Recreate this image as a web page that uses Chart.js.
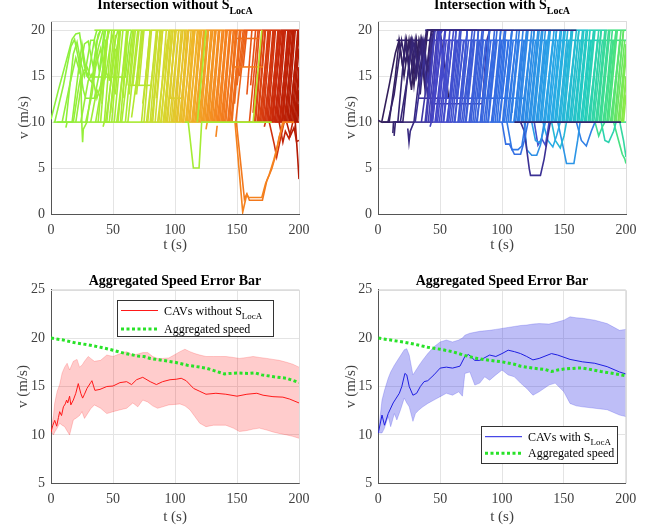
<!DOCTYPE html>
<html>
<head>
<meta charset="utf-8">
<script src="https://cdn.jsdelivr.net/npm/chart.js@4.4.0/dist/chart.umd.min.js"></script>
<style>
  body { margin: 0; background: #fff; }
  #wrap { position: relative; width: 651px; height: 529px; overflow: hidden; }
  canvas { position: absolute; }
</style>
</head>
<body>
<div id="wrap">
  <canvas id="c1" width="325" height="255" style="left:0;top:0"></canvas>
  <canvas id="c2" width="326" height="255" style="left:325px;top:0"></canvas>
  <canvas id="c3" width="325" height="274" style="left:0;top:255px"></canvas>
  <canvas id="c4" width="326" height="274" style="left:325px;top:255px"></canvas>
</div>
<script>
// ---- data ----
const tTicks = [0, 50, 100, 150, 200];
const vTicksTop = [0, 5, 10, 15, 20];
const vTicksBottom = [5, 10, 15, 20, 25];

// top-left: trajectories without S_LocA, [t, v, t, v, ...]
const leftLow = [2,10, 15,10, 30,10, 45,10, 60,10, 75,10, 90,10, 105,10, 120,10, 135,10, 150,10, 165,10, 180,10, 200,10];
const leftHigh = [35,20, 50,20, 65,20, 80,20, 95,20, 110,20, 125,20, 140,20, 155,20, 170,20, 185,20, 200,20];
const leftEarly = [
  [0,10.3, 6,13.5, 12,16.5, 17,19, 20,19.6, 23,19.7, 27,16, 30,15, 35,19, 37,20],
  [3,10, 10,14, 16,18.2, 19,19, 22,17, 26,13.5, 28,12.6, 35,12.6, 40,16, 44,20],
  [5,10, 12,10, 18,17.4, 21,18.7, 24,16.5, 27,15, 32,18.9, 35,18.9, 39,15.5, 43,20],
  [9,10, 15,14, 20,17, 23,15.5, 27,18.5, 30,18.8, 34,16, 38,19.5, 40,20],
  [12,9.4, 13,10, 17,10, 23,16.5, 25,18.5, 29,15, 33,14.3, 37,18.8, 40,20],
  [18,10, 22,13.5, 24,15, 25,9.3, 25.5,7.8, 26,9.2, 29,10, 34,15, 38,18, 42,20],
  [20,10, 26,15.5, 29,16, 32,14.9, 60,14.9, 63,18.5, 65,20],
  [24,10, 30,14.5, 33,15.2, 37,12.6, 40,14, 45,19, 47,20],
  [28,10, 33,13, 36,16, 40,18, 44,15, 48,18.5, 51,20],
  [32,10, 37,13.5, 40,12.6, 44,18, 47,20],
  [36,10, 41,14, 44,15.5, 48,14.5, 52,19, 54,20],
  [42,9.5, 43,10, 47,10, 53,18, 56,20]
];
const leftRises = [
  38,10,44,19, 40,10,46,20, 41,12,46,20, 43,10,49,20, 45,10,52,19.5, 47,14.5,51,20,
  49,10,55,20, 51,10,58,20, 52,13,56,20, 54,10,61,20, 56,10,62,20, 58,12.6,62,20,
  60,10,67,20, 61,14,66,20, 63,13,68,20, 66,14,71,20, 68,13,73,20, 71,14,75,20,
  73,10,80,20, 75,10,81,20, 76,14,80,20, 78,10,85,20, 80,10,86,20, 82,10,88,20,
  84,10,90,20, 85,12.6,90,20, 87,10,93,20, 89,10,95,20, 91,10,97,20, 92,10,98,20,
  94,10,100,20, 96,12.6,100,20, 97,10,103,20, 99,10,105,20, 100,10,106,20, 102,10,108,20,
  104,10,110,20, 105,10,111,20, 107,10,113,20, 109,10,115,20, 110,10,116,20, 112,10,118,20,
  114,10,120,20, 115,10,121,20, 117,10,123,20, 118,10,124,20, 120,10,126,20, 121,10,127,20,
  123,10,129,20, 124,10,130,20, 126,10,132,20, 127,10,133,20, 129,10,135,20, 130,10,136,20,
  132,10,138,20, 133,10,139,20, 135,10,141,20, 136,10,142,20, 138,10,144,20, 139,10,145,20,
  141,10,147,20, 143,10,149,20, 144,10,150,20, 146,10,152,20, 148,12,153,20, 150,14,155,20,
  152,15,156,20, 155,16,158,20, 158,13,162,20, 161,14,165,20, 163,11,168,20, 165,10,171,20,
  167,10,173,20, 169,10,175,20, 170,10,176,20, 171,10,177,20, 173,10,179,20, 174,10,180,20,
  175,10,181,20, 177,10,183,20, 178,10,184,20, 179,10,185,20, 181,10,187,20, 182,10,188,20,
  183,10,189,20, 185,10,191,20, 186,10,192,20, 187,10,193,20, 189,10,195,20, 190,10,196,20,
  191,10,197,20, 193,10,199,20, 194,10,200,19.5, 195,10,200,18, 197,10,200,15, 198,10,200,13.5,
  199,10,200,12
];
const leftRisesB = [
  44,10,52,18, 48,11,55,20, 53,10,62,20, 57,10,65,19, 62,10,70,20, 65,10.5,74,19.5,
  69,13,74,20, 74,12,80,19, 77,10,86,20, 81,10,89,20, 83,12.6,88,20, 86,10,94,19,
  88.5,10,96,20, 90.5,10,98.5,20, 93,10,101,20, 95.5,10,103,20, 98,10,106.5,20, 101,10,109,20,
  103.5,10,111,20, 106,10,114.5,20, 108.5,10,116,20, 111,10,119,20, 113.5,10,121.5,20, 116,10,124,20,
  119,10,127,20, 122,10,130.5,20, 125,10,133,20, 128,10,136,20, 131,10,139.5,20, 134,10,142,20,
  137,10,145,20, 140,10,148,20, 142.5,10,150,20, 145,10,153,20, 149,10,157,20, 160,10,167,20,
  164,10,171,20, 166.5,10,172.5,20, 168,10,176,20, 172,10,180,20, 176,10,184,20, 178.5,10,186,20,
  180,10,188,20, 184,10,192,20, 186.5,10,194,20, 188,10,196,20, 192,10,200,20, 196,10,200,16
];
const leftExtra = [
  [62,14, 80,14],
  [95,12.6, 105,12.6],
  [118,10, 125,20],
  [163,10, 170,20],
  [108,10, 110.7,10, 114.8,5, 119.4,5, 121.5,10, 178,10],
  [147,16, 171,16],
  [150,19.1, 168,19.1],
  [125,9.2, 126,10],
  [133,8.4, 134,9.6],
  [146,10, 148.4,10, 154.6,0.2, 157.8,2.1, 159.5,1.8, 170,1.8, 173,3.3, 176,4.3, 179.7,5.9, 183,7.6, 186.9,10, 196,10],
  [147,10, 149.5,10, 156,1.6, 158,2.2, 160,1.5, 170.5,1.5, 174,3.6, 178,4.9, 181,6.3, 184,8.4, 188,10],
  [172,9.5, 173,10],
  [176,10, 180,7.6, 182,6.2, 184,7.5, 188,10],
  [184,10, 187,7.8, 189,9, 192,8.2, 195,10],
  [190,10, 193,8.5, 196,9.4, 198,7.9, 200,8],
  [197,10, 199,6, 200,3.8]
];
const leftExtraShade = [65, 95, 60, 70, 50, 140, 145, 125, 133, 135, 140, 172, 175, 185, 192, 195];

// top-right: trajectories with S_LocA
const rightLow = [3,10, 15,10, 30,10, 45,10, 60,10, 75,10, 90,10, 105,10, 120,10, 135,10, 150,10, 165,10, 180,10, 200,10];
const rightMid = [33,12.6, 50,12.6, 65,12.6, 80,12.6, 95,12.6, 110,12.6, 118,12.6];
const rightNineteen = [15,18.9, 30,18.9, 45,18.9, 60,18.9, 75,18.9, 90,18.9, 105,18.9, 120,18.9, 135,18.9, 150,18.9, 165,18.9, 180,18.9, 200,18.9];
const rightHigh = [38,20, 50,20, 65,20, 80,20, 95,20, 110,20, 125,20, 140,20, 155,20, 170,20, 185,20, 200,20];
const rightEarly = [
  [0,10.2, 3,10, 9,14, 14,17.5, 17,18.9, 20,16, 23,18.9, 27,13.5, 31,18.9, 34,15, 38,19, 40,20, 50,20, 53,17, 57,12.6, 62,12.6],
  [4,10, 9,10, 14,15, 17,18.9, 21,15, 25,18.9, 29,14, 33,18.9, 37,16, 40,20, 48,20],
  [8,10, 13,13, 19,18.9, 22,16.5, 26,18.9, 30,15, 34,18.9, 38,13.5, 43,20, 55,20],
  [12,8.8, 12.5,10, 16,10, 22,18.9, 26,14.5, 30,18.9, 34,13, 39,20, 52,20],
  [13,8.5, 14,10, 20,10, 27,18.9, 31,15, 35,18.9, 38,14, 42,19, 44,20, 70,20],
  [24,9.3, 25,7.8, 26,9, 29,10, 35,17, 37,18.9, 41,14, 45,20, 80,20],
  [18,10, 24,15, 28,18.9, 32,16, 36,18.9, 40,15, 44,19.5, 46,20],
  [30,10, 37,17, 40,12.6, 43,19, 46,20, 90,20],
  [35,10, 40,15, 43,12, 84,12, 88,19, 90,20],
  [42,9.5, 43,10, 48,19, 52,20, 100,20],
  [50,20, 53,15, 56,12.6, 70,12.6]
];
const rightRises = [
  38,10,45,18.9, 39,10,46,20, 41,12.6,45,19, 42,10,49,20, 44,10,51,18.9, 45,12,50,20,
  47,10,54,20, 48,10,55,18.9, 50,12.6,54,20, 51,10,58,20, 53,10,60,18.9, 54,12.6,58,19,
  56,10,63,20, 57,10,64,18.9, 59,12.6,63,20, 60,10,67,20, 62,10,69,18.9, 63,12.6,67,19,
  65,10,72,20, 66,10,73,18.9, 68,12.6,72,20, 69,10,76,20, 71,10,78,18.9, 72,12.6,76,19,
  74,10,81,20, 75,10,82,18.9, 77,12.6,81,20, 78,10,85,20, 80,10,87,18.9, 81,12.6,85,19,
  83,10,90,20, 84,10,91,18.9, 86,12.6,90,20, 87,10,94,20, 89,10,96,18.9, 90,12.6,94,19,
  92,10,99,20, 93,10,100,18.9, 95,12.6,99,20, 96,10,103,20, 98,10,105,18.9, 99,12.6,103,19,
  101,10,108,20, 102,10,109,18.9, 104,12.6,108,20, 105,10,112,20, 107,10,114,18.9, 108,11,113,19,
  110,10,117,20, 111,10,118,18.9, 113,10,120,20, 114,10,121,20, 116,10,123,18.9, 117,10,124,20,
  119,10,126,20, 120,10,127,18.9, 122,10,129,20, 123,10,130,20, 125,10,132,18.9, 126,10,133,20,
  128,10,135,20, 129,10,136,18.9, 131,10,138,20, 132,10,139,20, 134,10,141,18.9, 135,10,142,20,
  137,10,144,20, 138,10,145,18.9, 140,10,147,20, 141,10,148,20, 143,10,150,18.9, 144,10,151,20,
  146,10,153,20, 147,10,154,18.9, 149,10,156,20, 150,10,157,20, 152,10,159,18.9, 153,10,160,20,
  155,10,162,20, 156,10,163,18.9, 158,10,165,20, 159,10,166,20, 161,10,168,18.9, 162,10,169,20,
  164,10,171,20, 165,10,172,18.9, 167,10,174,20, 168,10,175,20, 170,10,177,18.9, 171,10,178,20,
  173,10,180,20, 174,10,181,18.9, 176,10,183,20, 177,10,184,20, 179,10,186,18.9, 180,10,187,20,
  182,10,189,20, 183,10,190,18.9, 185,10,192,20, 186,10,193,20, 188,10,195,18.9, 189,10,196,20,
  191,10,198,20, 192,10,199,18.9, 194,10,200,18.5, 195,10,200,17, 197,10,200,14.5, 198,10,200,13
];
const rightRisesB = [
  40.5,10,48,20, 43.5,10,51.5,18.9, 46,10,54.5,20, 49.5,10,57,18.9, 52.5,10,61,20, 55.5,10,63.5,18.9,
  58.5,10,66,20, 61.5,10,69.5,18.9, 64.5,10,72,20, 67.5,10,75.5,18.9, 70.5,10,78,20, 73.5,10,81.5,18.9,
  76.5,10,84,20, 79.5,10,87.5,18.9, 82.5,10,90,20, 85.5,10,93.5,18.9, 88.5,10,96,20, 91.5,10,99.5,18.9,
  94.5,10,102,20, 97.5,10,105.5,18.9, 100.5,10,108,20, 103.5,10,111.5,18.9, 106.5,10,114,20, 109.5,10,117.5,18.9,
  112.5,10,120,20, 115.5,10,123.5,18.9, 118.5,10,126,20, 121.5,10,129.5,18.9, 124.5,10,132,20, 127.5,10,135.5,18.9,
  130.5,10,138,20, 133.5,10,141.5,18.9, 136.5,10,144,20, 139.5,10,147.5,18.9, 142.5,10,150,20, 145.5,10,153.5,18.9,
  148.5,10,156,20, 151.5,10,159.5,18.9, 154.5,10,162,20, 157.5,10,165.5,18.9, 160.5,10,168,20, 163.5,10,171.5,18.9,
  166.5,10,174,20, 169.5,10,177.5,18.9, 172.5,10,180,20, 175.5,10,183.5,18.9, 178.5,10,186,20, 181.5,10,189.5,18.9,
  184.5,10,192,20, 187.5,10,195.5,18.9, 190.5,10,198,20, 193.5,10,200,17.5, 196.5,10,200,15
];
const rightExtra = [
  [44,20, 160,20],
  [110,10, 196,10],
  [100,10, 103,7.6, 106,7.6, 110,6.5, 115,6.5, 118,8, 121,10],
  [104,10, 108,7, 113,7, 116,7.4, 119,10],
  [115,10, 118,9, 122,4.9, 123,4.2, 131,4.2, 134,6, 137,8.5, 139,10],
  [118,10, 120,7, 124,6.4, 128,6.4, 131,7.5, 134,10],
  [124,10, 127,8, 131,7.7, 135,10],
  [126,10, 129,7.5, 132,8.2, 135,7.5, 138,10],
  [133,10, 137,8, 141,7.3, 144,8.5, 147,10],
  [140,10, 143,8, 147,7.2, 150,8.5, 152,10],
  [145,10, 149,7.5, 152,5.5, 158,5.5, 161,8, 163,10],
  [160,10, 164,8, 168,7.4, 172,9, 175,10],
  [175,10, 178,8.5, 181,9.5, 183,10],
  [180,10, 183,8, 186,7.8, 190,9, 192,10],
  [190,10, 194,8, 197,6.5, 199,6, 200,5.5],
  [195,10, 198,8, 200,6.2]
];
const rightExtraShade = [15, 12, 95, 105, 30, 120, 130, 60, 140, 150, 125, 110, 180, 170, 185, 175];

// bottom-left: aggregated speed, CAVs without S_LocA
const aggLeftT = [0,10,20,30,40,50,60,70,75,80,90,100,110,120,125,130,140,150,160,165,170,180,190,200];
const aggLeftV = [20.0,19.8,19.5,19.3,19.05,18.75,18.4,18.15,18.1,17.9,17.7,17.5,17.2,17.0,16.9,16.7,16.3,16.4,16.35,16.4,16.2,16.0,15.85,15.4];
const redMeanT = [0,1.5,3,4.6,6,7,8.5,10,11.5,12.6,13.5,15,16,18,20,22,24,25.5,27,29,32,33,35.4,39.5,45,50,55.6,61,65,69,74,80,85,90,96,101,105,109,115,120,125,133,141,150,158,166,171,179,187,192.5,200];
const redMeanV = [10.3,11.0,11.5,10.9,11.8,12.4,12.0,12.9,13.2,13.6,13.3,14.0,13.1,13.6,14.3,15.3,14.3,13.8,14.2,14.8,15.4,15.6,14.6,14.7,15.0,15.05,15.4,15.5,15.2,15.7,15.95,15.5,15.2,15.5,15.7,15.75,15.85,15.6,14.8,14.5,14.2,14.3,14.2,14.0,14.2,14.3,14.1,13.95,13.9,13.7,13.3];
const redBandT = [0,2,3,5,7,9,11,13,15,18,21,23,25,27,30,32,35,40,45,50,56,61,66,70,74,78,82,86,90,95,100,104,108,112,116,120,125,131,137,141,147,152,158,163,168,174,179,184,190,195,200];
const redUpper = [10.5,12.0,13.3,14.5,15.2,16.4,17.0,17.4,16.7,17.6,17.8,17.0,17.2,17.6,18.1,17.9,17.6,17.7,18.25,18.1,18.4,18.6,18.25,18.35,18.5,18.5,18.1,17.9,17.9,17.95,18.3,18.6,18.85,18.6,18.4,18.25,18.1,18.1,18.1,18.1,18.0,17.9,18.0,18.1,18.0,17.9,17.8,17.7,17.5,17.3,17.0];
const redLower = [10.3,10.0,10.3,10.7,11.2,11.0,10.85,10.4,10.0,11.55,11.8,12.0,12.4,11.7,12.3,12.7,13.1,12.75,12.2,12.4,12.6,12.75,13.3,12.9,13.6,13.4,13.0,12.75,12.9,13.1,13.15,13.2,13.0,12.6,11.9,11.2,10.85,11.0,11.0,11.0,10.7,10.35,10.45,10.6,10.7,10.5,10.3,10.15,10.0,9.85,9.65];

// bottom-right: aggregated speed, CAVs with S_LocA
const aggRightT = [0,10,20,30,40,50,60,65,70,80,90,100,110,115,125,135,140,145,150,160,165,170,180,190,200];
const aggRightV = [20.0,19.8,19.6,19.35,19.05,18.85,18.6,18.4,18.2,17.9,17.7,17.55,17.3,17.1,16.9,16.75,16.55,16.7,16.8,16.9,16.9,16.8,16.55,16.35,16.1];
const blueMeanT = [0,3,5,8,12,14,17,19,21.5,23,25,28,31,34,37,40,45,50,55,60,66,70,73,78,82,90,95,100,105,110,115,120,125,130,140,145,155,165,175,185,195,200];
const blueMeanV = [10.2,12.05,11.0,12.2,13.3,13.7,14.3,15.0,16.35,16.2,15.0,14.1,14.3,15.0,15.5,15.6,16.2,16.9,17.0,16.9,17.1,18.1,18.3,17.7,17.7,18.25,18.1,18.4,18.75,18.6,18.4,18.1,17.75,17.9,18.4,18.25,17.8,17.55,17.4,17.05,16.5,16.3];
const blueBandT = [0,3,5,8,10,13,15,18,21,23,25,28,30,33,36,40,45,50,55,60,65,68,70,74,78,82,86,90,95,100,105,110,115,120,125,130,138,143,150,155,160,165,175,185,195,200];
const blueUpper = [10.2,13.6,14.6,15.85,16.5,17.2,17.6,18.2,18.8,18.9,18.25,16.2,16.6,17.2,17.75,18.4,19.1,19.6,19.8,19.6,19.8,20.0,20.3,20.5,20.6,20.7,20.75,20.8,20.9,21.0,21.1,21.2,21.3,21.35,21.45,21.5,21.45,21.6,21.85,22.2,22.1,22.05,21.85,21.5,20.8,20.9];
const blueLower = [10.2,10.2,10.7,11.9,10.85,12.2,11.55,12.6,13.8,13.3,12.9,11.4,12.2,12.6,12.9,13.25,13.6,13.95,14.3,14.1,14.45,14.0,16.35,16.5,15.15,15.35,16.0,15.65,16.2,16.7,16.2,16.0,15.35,14.8,14.1,14.45,15.15,15.35,14.45,13.25,13.0,12.9,12.75,12.6,12.05,11.9];

// ---- styling ----
const SERIF = '"Liberation Serif", "Times New Roman", serif';
const leftMap = [[0,[140,240,60]],[60,[170,235,50]],[90,[215,215,45]],[110,[240,180,40]],[135,[245,130,30]],[160,[230,80,20]],[180,[200,40,10]],[200,[170,20,0]]];
const rightMap = [[0,[50,30,90]],[25,[55,40,130]],[45,[70,70,200]],[100,[50,115,230]],[140,[40,170,230]],[165,[35,205,190]],[185,[70,225,130]],[200,[150,235,60]]];

function shade(map, t) {
  if (t <= map[0][0]) return `rgb(${map[0][1].join(',')})`;
  for (let i = 1; i < map.length; i++) {
    if (t <= map[i][0]) {
      const [t0, c0] = map[i - 1], [t1, c1] = map[i];
      const f = (t - t0) / (t1 - t0);
      return `rgb(${c0.map((c, k) => Math.round(c + (c1[k] - c) * f)).join(',')})`;
    }
  }
  return `rgb(${map[map.length - 1][1].join(',')})`;
}

function toPoints(flat) {
  const pts = [];
  for (let i = 0; i < flat.length; i += 2) pts.push({ x: flat[i], y: flat[i + 1] });
  return pts;
}

function pathSet(flat, map, fixedT) {
  const ds = { data: toPoints(flat), borderWidth: 1.6, pointRadius: 0, fill: false, tension: 0 };
  if (fixedT == null) {
    ds.borderColor = shade(map, flat[0]);
    ds.segment = { borderColor: c => shade(map, c.p0.parsed.x) };
  } else {
    ds.borderColor = shade(map, fixedT);
  }
  return ds;
}

function quads(flat) {
  const out = [];
  for (let i = 0; i < flat.length; i += 4) out.push(flat.slice(i, i + 4));
  return out;
}

function subText(ctx, x, y, main, sub, size, bold, center, color) {
  const f = s => (bold ? 'bold ' : '') + s + 'px ' + SERIF;
  const subSize = Math.round(size * 0.72);
  ctx.font = f(size);
  const w1 = ctx.measureText(main).width;
  ctx.font = f(subSize);
  const w2 = sub ? ctx.measureText(sub).width : 0;
  const x0 = center ? x - (w1 + w2) / 2 : x;
  ctx.fillStyle = color;
  ctx.textAlign = 'left';
  ctx.textBaseline = 'alphabetic';
  ctx.font = f(size);
  ctx.fillText(main, x0, y);
  if (sub) {
    ctx.font = f(subSize);
    ctx.fillText(sub, x0 + w1, y + size * 0.38);
  }
}

const decor = {
  id: 'decor',
  afterDraw(chart, args, o) {
    const { ctx, chartArea: a } = chart;
    ctx.save();
    ctx.strokeStyle = '#dcdcdc';
    ctx.lineWidth = 1;
    ctx.beginPath();
    ctx.moveTo(a.left, Math.round(a.top) + 0.5);
    ctx.lineTo(Math.round(a.right) + 0.5, Math.round(a.top) + 0.5);
    ctx.lineTo(Math.round(a.right) + 0.5, a.bottom);
    ctx.stroke();
    const cx = (a.left + a.right) / 2;
    subText(ctx, cx, o.titleY, o.title, o.titleSub, 14, true, true, '#000');
    if (o.legend) {
      const L = o.legend;
      ctx.fillStyle = '#fff';
      ctx.fillRect(L.x, L.y, L.w, L.h);
      ctx.strokeStyle = '#333';
      ctx.lineWidth = 1;
      ctx.strokeRect(L.x + 0.5, L.y + 0.5, L.w, L.h);
      L.items.forEach((it, i) => {
        const y = L.rows[i];
        ctx.strokeStyle = it.color;
        ctx.lineWidth = it.width;
        ctx.setLineDash(it.dash || []);
        ctx.beginPath();
        ctx.moveTo(L.x + 4, y);
        ctx.lineTo(L.x + 41, y);
        ctx.stroke();
        ctx.setLineDash([]);
        subText(ctx, L.x + 47, y + 4, it.label, it.sub, 12, false, false, '#000');
      });
    }
    ctx.restore();
  }
};

function baseOptions(box, yMin, yMax, yTicks, deco) {
  const tickFont = { family: SERIF, size: 14 };
  const titleFont = { family: SERIF, size: 15 };
  return {
    responsive: false,
    animation: false,
    events: [],
    layout: { padding: { left: 0, top: box.top, right: box.right, bottom: 0 } },
    plugins: { legend: { display: false }, tooltip: { enabled: false }, decor: deco },
    scales: {
      x: {
        type: 'linear', min: 0, max: 200,
        afterBuildTicks: s => { s.ticks = tTicks.map(v => ({ value: v })); },
        afterFit: s => { s.height = box.xh; },
        grid: { color: '#e4e4e4', drawTicks: false },
        border: { color: '#555' },
        ticks: { padding: 8, color: '#404040', font: tickFont, maxRotation: 0 },
        title: { display: true, text: 't (s)', color: '#404040', font: titleFont, padding: { top: 0, bottom: box.xtp } }
      },
      y: {
        type: 'linear', min: yMin, max: yMax,
        afterBuildTicks: s => { s.ticks = yTicks.map(v => ({ value: v })); },
        afterFit: s => { s.width = box.left; },
        grid: { color: '#e4e4e4', drawTicks: false },
        border: { color: '#555' },
        ticks: { padding: 6, color: '#404040', font: tickFont },
        title: { display: true, text: 'v (m/s)', color: '#404040', font: titleFont, padding: { top: box.ytp, bottom: 0 } }
      }
    }
  };
}

function topChart(id, box, map, low, extraLines, early, rises, extra, extraShade, title, sub) {
  const datasets = [];
  // dataset 0 is painted last, so the special trajectories go first to stay on top
  extra.forEach((p, i) => datasets.push(pathSet(p, map, extraShade[i])));
  const all = [];
  rises.forEach(r => quads(r).forEach(q => all.push(q)));
  all.sort((a, b) => b[0] - a[0]).forEach(q => datasets.push(pathSet(q, map)));
  early.slice().reverse().forEach(p => datasets.push(pathSet(p, map, p[0])));
  extraLines.forEach(p => datasets.push(pathSet(p, map)));
  datasets.push(pathSet(low, map));
  new Chart(document.getElementById(id), {
    type: 'line',
    data: { datasets },
    options: baseOptions(box, 0, 21, vTicksTop, { title, titleSub: sub, titleY: 9 }),
    plugins: [decor]
  });
}

topChart('c1', { left: 51, top: 21, right: 26, xh: 41, xtp: 1, ytp: 15 }, leftMap,
  leftLow, [leftHigh], leftEarly, [leftRises, leftRisesB], leftExtra, leftExtraShade,
  'Intersection without S', 'LocA');

topChart('c2', { left: 53, top: 21, right: 25, xh: 41, xtp: 1, ytp: 17 }, rightMap,
  rightLow, [rightMid, rightNineteen, rightHigh], rightEarly, [rightRises, rightRisesB], rightExtra, rightExtraShade,
  'Intersection with S', 'LocA');

const pts = (xs, ys) => xs.map((x, i) => ({ x, y: ys[i] }));
const aggStyle = { borderColor: 'rgb(40,226,40)', borderWidth: 3, borderDash: [3, 2.5], pointRadius: 0, fill: false };

function bottomChart(id, box, aggT, aggV, meanT, meanV, bandT, up, lo, line, band, bandEdge, legend) {
  new Chart(document.getElementById(id), {
    type: 'line',
    data: {
      datasets: [
        Object.assign({ data: pts(aggT, aggV) }, aggStyle),
        { data: pts(meanT, meanV), borderColor: line, borderWidth: 1, pointRadius: 0, fill: false },
        { data: pts(bandT, up), borderColor: bandEdge, borderWidth: 0.8, pointRadius: 0, backgroundColor: band, fill: '+1' },
        { data: pts(bandT, lo), borderColor: bandEdge, borderWidth: 0.8, pointRadius: 0, fill: false }
      ]
    },
    options: baseOptions(box, 5, 25, vTicksBottom, { title: 'Aggregated Speed Error Bar', titleSub: '', titleY: 29.5, legend }),
    plugins: [decor]
  });
}

bottomChart('c3', { left: 51, top: 34.7, right: 26, xh: 45.7, xtp: 2.5, ytp: 14 },
  aggLeftT, aggLeftV, redMeanT, redMeanV, redBandT, redUpper, redLower,
  'rgb(255,25,25)', 'rgba(255,0,0,0.2)', 'rgba(255,60,60,0.3)',
  { x: 117, y: 45, w: 156, h: 36, rows: [55.5, 74],
    items: [
      { label: 'CAVs without S', sub: 'LocA', color: 'rgb(255,25,25)', width: 1 },
      { label: 'Aggregated speed', sub: '', color: 'rgb(40,226,40)', width: 3, dash: [3, 2.5] }
    ] });

bottomChart('c4', { left: 53.3, top: 34.7, right: 25.3, xh: 45.7, xtp: 2.5, ytp: 17 },
  aggRightT, aggRightV, blueMeanT, blueMeanV, blueBandT, blueUpper, blueLower,
  'rgb(30,30,225)', 'rgba(40,40,230,0.3)', 'rgba(60,60,230,0.3)',
  { x: 156, y: 171, w: 136, h: 37, rows: [181.7, 198.3],
    items: [
      { label: 'CAVs with S', sub: 'LocA', color: 'rgb(30,30,225)', width: 1 },
      { label: 'Aggregated speed', sub: '', color: 'rgb(40,226,40)', width: 3, dash: [3, 2.5] }
    ] });
</script>
</body>
</html>
